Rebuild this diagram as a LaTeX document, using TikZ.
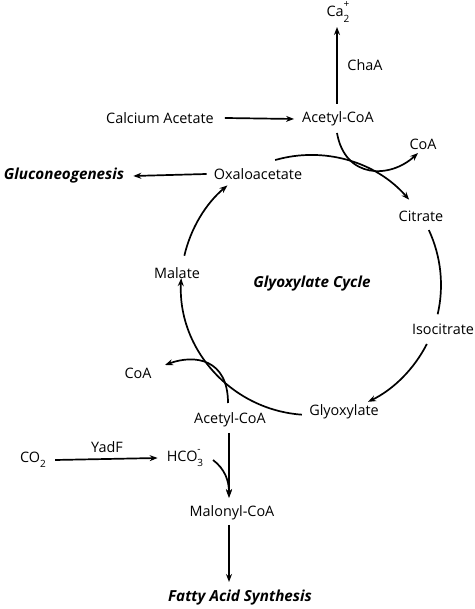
\documentclass[tikz,border=0pt]{standalone}
\usepackage{fontspec}
\setmainfont{Open Sans}
\usetikzlibrary{arrows.meta,calc}
\newcommand{\smidx}[1]{{\fontsize{10}{10}\selectfont#1}}
\newcommand{\supsub}[2]{\rlap{\raisebox{1.15ex}{\smidx{#2}}}\raisebox{-0.7ex}{\smidx{#1}}}
\tikzset{
  every node/.style={font=\fontsize{14.4}{17}\selectfont,inner sep=1pt},
  bigtxt/.style={font=\fontsize{15.2}{18}\selectfont\bfseries\itshape},
  rxn/.style={line width=1.7pt,-{Stealth[length=8pt,width=6pt]}},
  seg/.style={line width=1.7pt}
}
\begin{document}
\begin{tikzpicture}[x=1pt,y=1pt]
\useasboundingbox (0,0) rectangle (474,609);
\coordinate (c) at (311,324);
\node (cycle) [bigtxt] at (312,325) {Glyoxylate Cycle};
\node (ca) at (338,597) {Ca\supsub{2}{+}};
\node (chaa) at (365,544) {ChaA};
\node (acoa1) at (338,490) {Acetyl-CoA};
\node (calc) at (160,491) {Calcium Acetate};
\node (coa1) at (423,465) {CoA};
\node (gluco) [bigtxt] at (64,433) {Gluconeogenesis};
\node (oxa) at (258,435) {Oxaloacetate};
\node (cit) at (421,393) {Citrate};
\node (mal) at (177,336) {Malate};
\node (iso) at (443,280) {Isocitrate};
\node (glx) at (344,197) {Glyoxylate};
\node (coa2) at (138,236) {CoA};
\node (acoa2) at (230,189) {Acetyl-CoA};
\node (co2) at (33,149) {CO\raisebox{-0.7ex}{\smidx{2}}};
\node (yadf) at (107,162) {YadF};
\node (hco) at (185,151) {HCO\supsub{3}{-}};
\node (maco) at (232,96) {Malonyl-CoA};
\node (fas) [bigtxt] at (240,11) {Fatty Acid Synthesis};
% straight steps
\draw[rxn] (337,505) -- (337,582);
\draw[rxn] (calc.east) ++(10,0) -- ([xshift=-7pt]acoa1.west);
\draw[rxn] ([xshift=-6pt]oxa.west) -- ([xshift=8pt]gluco.east);
\draw[rxn] ([xshift=8pt]co2.east) -- ([xshift=-8pt]hco.west);
\draw[rxn] (229,176) -- (229,111);
\draw[rxn] (229,84) -- (229,27);
% the cycle
\draw[rxn] ($(c)+(106:130)$) arc[start angle=106,end angle=41,radius=130pt];
\draw[seg] ($(c)+(25:130)$) arc[start angle=25,end angle=-13,radius=130pt];
\draw[rxn] ($(c)+(-27:130)$) arc[start angle=-27,end angle=-64,radius=130pt];
\draw[rxn] ($(c)+(-94:130)$) arc[start angle=-94,end angle=-183,radius=130pt];
\draw[rxn] ($(c)+(167:130)$) arc[start angle=167,end angle=130,radius=130pt];
% side reactions
\draw[rxn] (337,476) .. controls (345,430) and (390,430) .. (418,456);
\draw[rxn] (228,206) .. controls (228,250) and (195,255) .. (165,244);
\draw[rxn] (213,149) .. controls (225,140) and (229,128) .. (229,112);
\end{tikzpicture}
\end{document}
